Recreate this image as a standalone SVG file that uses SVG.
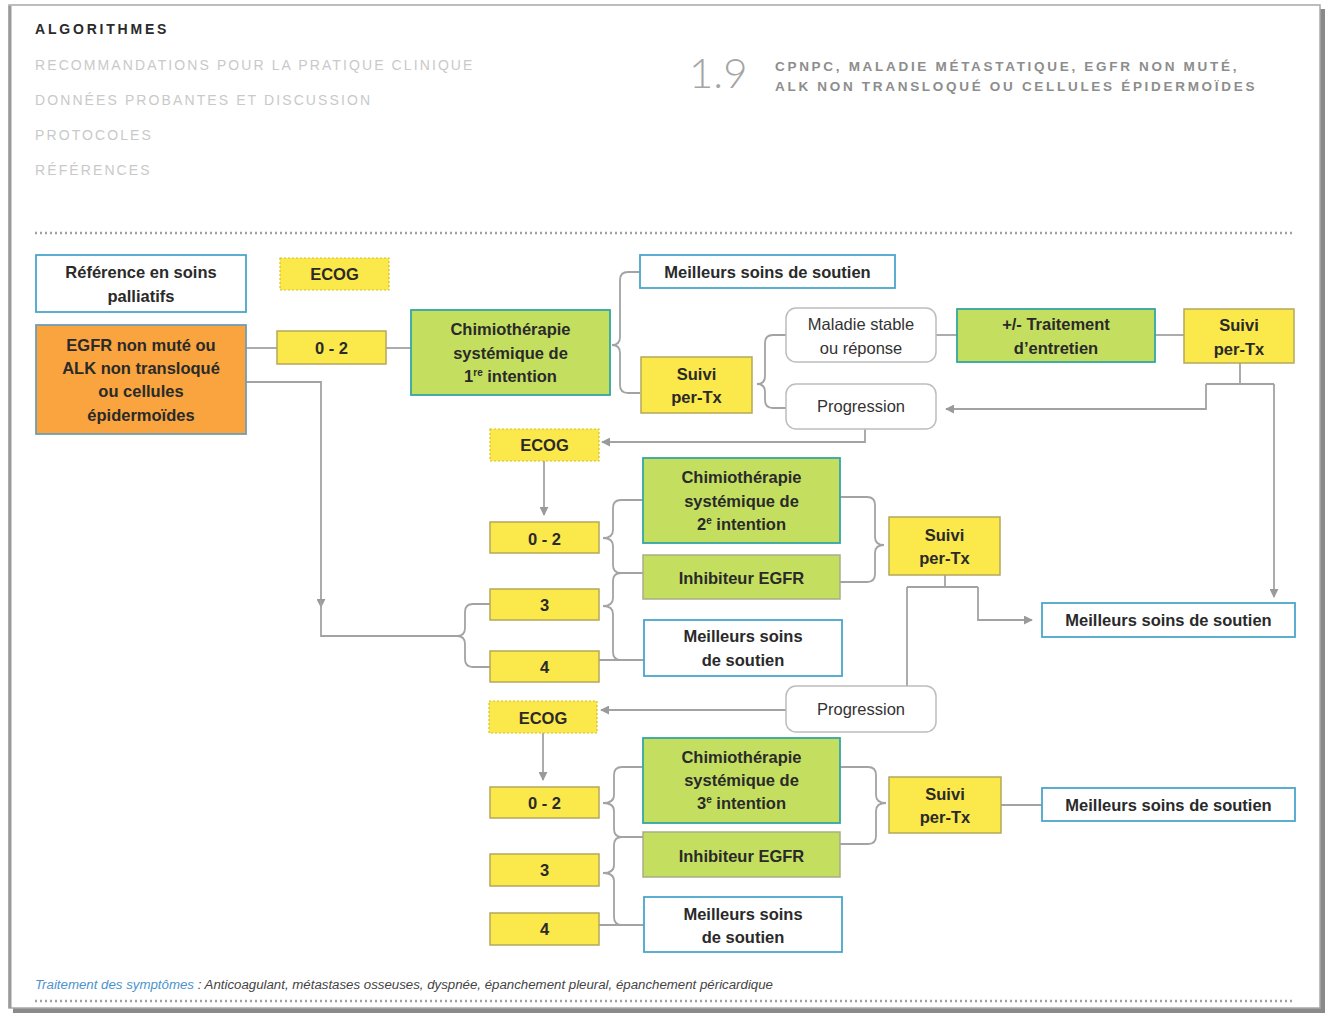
<svg xmlns="http://www.w3.org/2000/svg" width="1327" height="1015" viewBox="0 0 1327 1015">
<defs>
<marker id="arr" viewBox="0 0 10 10" refX="9" refY="5" markerWidth="9" markerHeight="9" markerUnits="userSpaceOnUse" orient="auto">
<path d="M0,0 L10,5 L0,10 z" fill="#9a9a9a"/>
</marker>
</defs>
<style>
.t{font-family:"Liberation Sans",Arial,sans-serif;font-weight:bold;font-size:16.5px;fill:#2a2a2a;text-anchor:middle}
.tn{font-family:"Liberation Sans",Arial,sans-serif;font-size:16.5px;fill:#333;text-anchor:middle}
.y{fill:#fbe84a;stroke:#b5a85a;stroke-width:1.5}
.yd{fill:#fbe84a;stroke:#d8c020;stroke-width:1.2;stroke-dasharray:2 2}
.g{fill:#c4df60;stroke:#33a7a2;stroke-width:1.8}
.gg{fill:#c4df60;stroke:#a9ad8a;stroke-width:1.5}
.w{fill:#fff;stroke:#4ba6cb;stroke-width:1.8}
.r{fill:#fff;stroke:#bdbdbd;stroke-width:1.5}
.o{fill:#f9a43e;stroke:#6f9eb4;stroke-width:1.8}
.c{fill:none;stroke:#a3a3a3;stroke-width:1.8}
.sup{font-size:10px}
.hdr{font-family:"Liberation Sans",Arial,sans-serif;font-size:14px;fill:#c9c9c9;letter-spacing:2.1px}
.ttl{font-family:"Liberation Sans",Arial,sans-serif;font-weight:bold;font-size:13.5px;fill:#8d8d8d;letter-spacing:2.7px}
</style>
<rect width="1327" height="1015" fill="#fff"/>
<g id="page">
<rect x="13" y="9" width="1312" height="1004" fill="#8a8a8a"/>
<rect x="9" y="5" width="1311" height="1003" fill="#fff" stroke="#a8a8a8" stroke-width="1.5"/>
<line x1="10" y1="6" x2="10" y2="1008" stroke="#9a9a9a" stroke-width="3"/>
</g>
<g id="header">
<text x="35" y="34" style="font-family:'Liberation Sans',Arial,sans-serif;font-weight:bold;font-size:14px;fill:#2a2a2a;letter-spacing:2.8px">ALGORITHMES</text>
<text class="hdr" x="35" y="70">RECOMMANDATIONS POUR LA PRATIQUE CLINIQUE</text>
<text class="hdr" x="35" y="105">DONNÉES PROBANTES ET DISCUSSION</text>
<text class="hdr" x="35" y="140">PROTOCOLES</text>
<text class="hdr" x="35" y="175">RÉFÉRENCES</text>
<text x="689" y="88" style="font-family:Lato,'Open Sans',sans-serif;font-weight:300;font-size:42px;fill:#a5a5a5">1.9</text>
<text class="ttl" x="775" y="71">CPNPC, MALADIE MÉTASTATIQUE, EGFR NON MUTÉ,</text>
<text class="ttl" x="775" y="91">ALK NON TRANSLOQUÉ OU CELLULES ÉPIDERMOÏDES</text>
<line x1="35" y1="233" x2="1293" y2="233" stroke="#a0a0a0" stroke-width="2.4" stroke-dasharray="2 3"/>
</g>
<g id="connectors">
<path class="c" d="M246,348 H277"/>
<path class="c" d="M386,348 H411"/>
<path class="c" d="M640,272 H628 Q620,272 620,280 V337 Q620,345 612,345 Q620,345 620,353 V385 Q620,393 628,393 H640"/>
<path class="c" d="M786,335 H773 Q765,335 765,343 V376 Q765,384 757,384 Q765,384 765,392 V400 Q765,408 773,408 H786"/>
<path class="c" d="M936,335 H957"/>
<path class="c" d="M1155,335 H1184"/>
<path class="c" d="M1240,363 V384 M1206,384 H1274"/>
<path class="c" d="M1206,384 V409 H946" marker-end="url(#arr)"/>
<path class="c" d="M1274,384 V597" marker-end="url(#arr)"/>
<path class="c" d="M865,429 V442 H602" marker-end="url(#arr)"/>
<path class="c" d="M544,461 V515" marker-end="url(#arr)"/>
<path class="c" d="M246,382 H321 V607" marker-end="url(#arr)"/>
<path class="c" d="M321,600 V636 H457"/>
<path class="c" d="M490,604 H473 Q465,604 465,612 V628 Q465,636 457,636 Q465,636 465,644 V659 Q465,667 473,667 H490"/>
<path class="c" d="M643,500 H621 Q613,500 613,508 V530 Q613,538 603,538 Q613,538 613,546 V565 Q613,573 621,573 H643"/>
<path class="c" d="M621,573 Q613,573 613,581 V598 Q613,606 603,606 Q613,606 613,614 V652 Q613,660 621,660"/>
<path class="c" d="M599,660 H644"/>
<path class="c" d="M840,497 H867 Q875,497 875,505 V537 Q875,545 884,545 Q875,545 875,553 V574 Q875,582 867,582 H840"/>
<path class="c" d="M945,575 V587 M907,587 H978 M907,587 V686"/>
<path class="c" d="M978,587 V620 H1032" marker-end="url(#arr)"/>
<path class="c" d="M786,710 H601" marker-end="url(#arr)"/>
<path class="c" d="M543,733 V780" marker-end="url(#arr)"/>
<path class="c" d="M643,767 H622 Q614,767 614,775 V795 Q614,803 603,803 Q614,803 614,811 V829 Q614,837 622,837 H643"/>
<path class="c" d="M622,837 Q614,837 614,845 V865 Q614,873 603,873 Q614,873 614,881 V917 Q614,925 622,925"/>
<path class="c" d="M599,925 H644"/>
<path class="c" d="M840,767 H868 Q876,767 876,775 V795 Q876,803 886,803 Q876,803 876,811 V836 Q876,844 868,844 H840"/>
<path class="c" d="M1001,805 H1042"/>
</g>
<g id="n-ref"><rect class="w" x="36" y="255" width="210" height="57"/><text class="t" x="141" y="278">Référence en soins</text><text class="t" x="141" y="302">palliatifs</text></g>
<g id="n-ecog1"><rect class="yd" x="280" y="258" width="109" height="32"/><text class="t" x="334.5" y="280">ECOG</text></g>
<g id="n-egfr"><rect class="o" x="36" y="325" width="210" height="109"/><text class="t" x="141" y="351">EGFR non muté ou</text><text class="t" x="141" y="374">ALK non transloqué</text><text class="t" x="141" y="397">ou cellules</text><text class="t" x="141" y="421">épidermoïdes</text></g>
<g id="n-02a"><rect class="y" x="277" y="331" width="109" height="33"/><text class="t" x="331.5" y="354">0 - 2</text></g>
<g id="n-chimio1"><rect class="g" x="411" y="310" width="199" height="85"/><text class="t" x="510.5" y="335">Chimiothérapie</text><text class="t" x="510.5" y="359">systémique de</text><text class="t" x="510.5" y="382">1<tspan class="sup" dy="-6">re</tspan><tspan dy="6"> intention</tspan></text></g>
<g id="n-msst1"><rect class="w" x="640" y="255" width="255" height="33"/><text class="t" x="767.5" y="278">Meilleurs soins de soutien</text></g>
<g id="n-suivi1"><rect class="y" x="641" y="357" width="111" height="56"/><text class="t" x="696.5" y="380">Suivi</text><text class="t" x="696.5" y="403">per-Tx</text></g>
<g id="n-stable"><rect class="r" x="786" y="308" width="150" height="54" rx="10"/><text class="tn" x="861" y="330">Maladie stable</text><text class="tn" x="861" y="354">ou réponse</text></g>
<g id="n-prog1"><rect class="r" x="786" y="384" width="150" height="45" rx="10"/><text class="tn" x="861" y="412">Progression</text></g>
<g id="n-entretien"><rect class="g" x="957" y="309" width="198" height="53"/><text class="t" x="1056" y="330">+/- Traitement</text><text class="t" x="1056" y="354">d’entretien</text></g>
<g id="n-suivi2"><rect class="y" x="1184" y="309" width="110" height="54"/><text class="t" x="1239" y="331">Suivi</text><text class="t" x="1239" y="355">per-Tx</text></g>
<g id="n-ecog2"><rect class="yd" x="490" y="429" width="109" height="32"/><text class="t" x="544.5" y="451">ECOG</text></g>
<g id="n-chimio2"><rect class="g" x="643" y="458" width="197" height="85"/><text class="t" x="741.5" y="483">Chimiothérapie</text><text class="t" x="741.5" y="507">systémique de</text><text class="t" x="741.5" y="530">2<tspan class="sup" dy="-6">e</tspan><tspan dy="6"> intention</tspan></text></g>
<g id="n-02b"><rect class="y" x="490" y="522" width="109" height="31"/><text class="t" x="544.5" y="545">0 - 2</text></g>
<g id="n-inhib1"><rect class="gg" x="643" y="555" width="197" height="44"/><text class="t" x="741.5" y="584">Inhibiteur EGFR</text></g>
<g id="n-3a"><rect class="y" x="490" y="589" width="109" height="31"/><text class="t" x="544.5" y="611">3</text></g>
<g id="n-msst2"><rect class="w" x="644" y="620" width="198" height="56"/><text class="t" x="743" y="642">Meilleurs soins</text><text class="t" x="743" y="666">de soutien</text></g>
<g id="n-4a"><rect class="y" x="490" y="651" width="109" height="31"/><text class="t" x="544.5" y="673">4</text></g>
<g id="n-suivi3"><rect class="y" x="889" y="517" width="111" height="58"/><text class="t" x="944.5" y="541">Suivi</text><text class="t" x="944.5" y="564">per-Tx</text></g>
<g id="n-msst3"><rect class="w" x="1042" y="603" width="253" height="34"/><text class="t" x="1168.5" y="626">Meilleurs soins de soutien</text></g>
<g id="n-prog2"><rect class="r" x="786" y="686" width="150" height="46" rx="10"/><text class="tn" x="861" y="715">Progression</text></g>
<g id="n-ecog3"><rect class="yd" x="489" y="701" width="108" height="32"/><text class="t" x="543" y="724">ECOG</text></g>
<g id="n-chimio3"><rect class="g" x="643" y="738" width="197" height="85"/><text class="t" x="741.5" y="763">Chimiothérapie</text><text class="t" x="741.5" y="786">systémique de</text><text class="t" x="741.5" y="809">3<tspan class="sup" dy="-6">e</tspan><tspan dy="6"> intention</tspan></text></g>
<g id="n-02c"><rect class="y" x="490" y="787" width="109" height="31"/><text class="t" x="544.5" y="809">0 - 2</text></g>
<g id="n-inhib2"><rect class="gg" x="643" y="832" width="197" height="45"/><text class="t" x="741.5" y="862">Inhibiteur EGFR</text></g>
<g id="n-3b"><rect class="y" x="490" y="854" width="109" height="32"/><text class="t" x="544.5" y="876">3</text></g>
<g id="n-msst4"><rect class="w" x="644" y="897" width="198" height="55"/><text class="t" x="743" y="920">Meilleurs soins</text><text class="t" x="743" y="943">de soutien</text></g>
<g id="n-4b"><rect class="y" x="490" y="913" width="109" height="32"/><text class="t" x="544.5" y="935">4</text></g>
<g id="n-suivi4"><rect class="y" x="889" y="777" width="112" height="56"/><text class="t" x="945" y="800">Suivi</text><text class="t" x="945" y="823">per-Tx</text></g>
<g id="n-msst5"><rect class="w" x="1042" y="788" width="253" height="33"/><text class="t" x="1168.5" y="811">Meilleurs soins de soutien</text></g>
<g id="footer">
<text x="35" y="989" textLength="738" lengthAdjust="spacingAndGlyphs" style="font-family:'Liberation Sans',Arial,sans-serif;font-style:italic;font-size:12.5px;fill:#444"><tspan fill="#4b93cc">Traitement des symptômes</tspan> : Anticoagulant, métastases osseuses, dyspnée, épanchement pleural, épanchement péricardique</text>
<line x1="35" y1="1001" x2="1293" y2="1001" stroke="#a0a0a0" stroke-width="2.4" stroke-dasharray="2 3"/>
</g>
</svg>
